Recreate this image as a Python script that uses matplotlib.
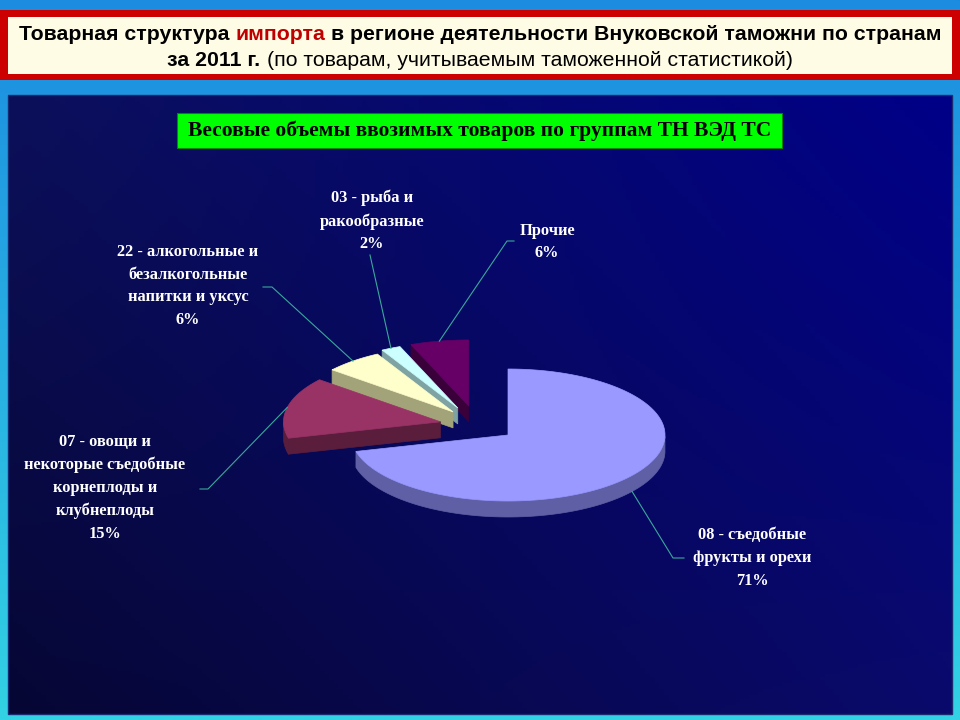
import numpy as np
import matplotlib
matplotlib.use("Agg")
import matplotlib.pyplot as plt
from matplotlib.patches import Polygon, Rectangle
from matplotlib import font_manager

# --- data ---
groups = ["08 - съедобные\nфрукты и орехи",
          "07 - овощи и\nнекоторые съедобные\nкорнеплоды и\nклубнеплоды",
          "22 - алкогольные и\nбезалкогольные\nнапитки и уксус",
          "03 - рыба и\nракообразные",
          "Прочие"]
shares = [71, 15, 6, 2, 6]

title_line1 = [("Товарная структура", "black"), ("импорта", "#c00000"),
               ("в регионе деятельности Внуковской таможни по странам", "black")]
title_line2 = [("за 2011 г.", "bold"), ("(по товарам, учитываемым таможенной статистикой)", "normal")]
chart_title = "Весовые объемы ввозимых товаров по группам ТН ВЭД ТС"

# --- styles ---
top_colors = ["#9999ff", "#993366", "#ffffcc", "#ccffff", "#660066"]
side_colors = ["#5f5fa6", "#5a1e3c", "#a3a37a", "#7fa3a3", "#3a003a"]
explode = [(0, 0), (-0.43, 0.20), (-0.35, 0.35), (-0.32, 0.41), (-0.25, 0.44)]
label_pos = [(752, 558), (105, 488), (188, 286), (372, 221), (547, 242)]
leader_pts = [[(673, 558), (684, 558)], [(208, 489), (200, 489)],
              [(272, 287), (263, 287)], [(370, 255)], [(507, 241), (514, 241)]]
CX, CY, RX, RY, DEPTH = 508, 435, 157, 66, 16


def pick_font(names):
    for n in names:
        try:
            font_manager.findfont(n, fallback_to_default=False)
            return n
        except Exception:
            pass
    return "DejaVu Sans"


sans_narrow = pick_font(["Liberation Sans Narrow", "Liberation Sans"])
serif = pick_font(["Liberation Serif", "DejaVu Serif"])

fig = plt.figure(figsize=(9.6, 7.2), dpi=100)
ax = fig.add_axes([0, 0, 1, 1])
ax.set_xlim(0, 960)
ax.set_ylim(720, 0)
ax.axis("off")

# outer background gradient
t = np.linspace(0, 1, 256)[:, None, None]
top = np.array([0x1c, 0x8c, 0xe0]) / 255
bot = np.array([0x33, 0xd2, 0xe4]) / 255
ax.imshow(top * (1 - t) + bot * t, extent=[0, 960, 720, 0], aspect="auto", zorder=0)

# inner dark panel
u = np.linspace(0, 1, 200)[None, :, None]
v = np.linspace(0, 1, 200)[:, None, None]
tl = np.array([0x0c, 0x10, 0x5a]) / 255
tr = np.array([0x00, 0x00, 0x88]) / 255
bl = np.array([0x06, 0x06, 0x34]) / 255
br = np.array([0x0a, 0x0a, 0x6c]) / 255
panel = (tl * (1 - u) * (1 - v) + tr * u * (1 - v) + bl * (1 - u) * v + br * u * v)
ax.imshow(panel, extent=[8, 952, 714, 95], aspect="auto", zorder=1)
ax.add_patch(Rectangle((8, 95), 944, 619, fill=False, ec="#1a2a70", lw=1, zorder=2))

# title banner
ax.add_patch(Rectangle((0, 10), 960, 70, fc="#cc0000", ec="none", zorder=2))
ax.add_patch(Rectangle((8, 17), 944, 57, fc="#fffce6", ec="none", zorder=3))

renderer = fig.canvas.get_renderer()


def run_line(parts, y, fontsize, colors, weights, gap):
    texts = []
    for (s, c, w) in zip(parts, colors, weights):
        texts.append(ax.text(0, y, s, color=c, fontweight=w, fontsize=fontsize,
                             family=sans_narrow, va="center", ha="left", zorder=5))
    widths = [tx.get_window_extent(renderer).width for tx in texts]
    total = sum(widths) + gap * (len(texts) - 1)
    x = 480 - total / 2
    for tx, w in zip(texts, widths):
        tx.set_x(x)
        x += w + gap


run_line([p[0] for p in title_line1], 35, 15.3, [p[1] for p in title_line1],
         ["bold"] * 3, 6)
run_line([p[0] for p in title_line2], 60, 15.3, ["black", "black"],
         [p[1] for p in title_line2], 6)

# green chart title box
ax.add_patch(Rectangle((177, 113), 605, 35, fc="#00ff00", ec="#008800", lw=0.8, zorder=3))
ax.text(480, 131, chart_title, ha="center", va="center", fontsize=15.5,
        fontweight="bold", family=serif, color="black", zorder=5)

# slice angles: start at 12 o'clock, go clockwise
total = sum(shares)
bounds = []
a = 90.0
for s in shares:
    a_next = a - 360.0 * s / total
    bounds.append((a_next, a))
    a = a_next


def to_px(ox, oy, ang):
    return (CX + RX * (ox + np.cos(ang)), CY - RY * (oy + np.sin(ang)))


def draw_slice(a1, a2, off, top_c, side_c, z):
    ox, oy = off
    apex = (CX + RX * ox, CY - RY * oy)
    th = np.radians(np.linspace(a1, a2, 200))
    rx = CX + RX * (ox + np.cos(th))
    ry = CY - RY * (oy + np.sin(th))
    # radial walls
    for ang, face in ((a1, a1 - 90), (a2, a2 + 90)):
        if np.sin(np.radians(face)) < -0.01:
            p = to_px(ox, oy, np.radians(ang))
            wall = [apex, p, (p[0], p[1] + DEPTH), (apex[0], apex[1] + DEPTH)]
            ax.add_patch(Polygon(wall, closed=True, fc=side_c, ec=side_c, lw=0.5, zorder=z))
    # outer rim side
    m = np.sin(th) < 0
    if m.any():
        xs, ys = rx[m], ry[m]
        pts = list(zip(xs, ys)) + list(zip(xs[::-1], ys[::-1] + DEPTH))
        ax.add_patch(Polygon(pts, closed=True, fc=side_c, ec=side_c, lw=0.5, zorder=z))
    # top face
    pts = [apex] + list(zip(rx, ry))
    ax.add_patch(Polygon(pts, closed=True, fc=top_c, ec=top_c, lw=0.5, zorder=z + 0.5))


# back to front
order = sorted(range(len(shares)),
               key=lambda i: -(explode[i][1] + np.sin(np.radians(sum(bounds[i]) / 2))))
for k, i in enumerate(order):
    a1, a2 = bounds[i]
    draw_slice(a1, a2, explode[i], top_colors[i], side_colors[i], 10 + k)

# labels and leader lines
for i in range(len(shares)):
    a1, a2 = bounds[i]
    mid = np.radians((a1 + a2) / 2)
    sx, sy = to_px(explode[i][0], explode[i][1], mid)
    if np.sin(mid) < 0:
        sy += DEPTH
    pts = [(sx, sy)] + leader_pts[i]
    ax.plot([p[0] for p in pts], [p[1] for p in pts], color="#3aa89a", lw=0.8, zorder=20)
    lx, ly = label_pos[i]
    ax.text(lx, ly, groups[i] + "\n" + f"{shares[i]}%", ha="center", va="center",
            color="white", fontsize=11.8, fontweight="bold", family=serif,
            linespacing=1.55, zorder=21)

fig.savefig("out.png", dpi=100)
